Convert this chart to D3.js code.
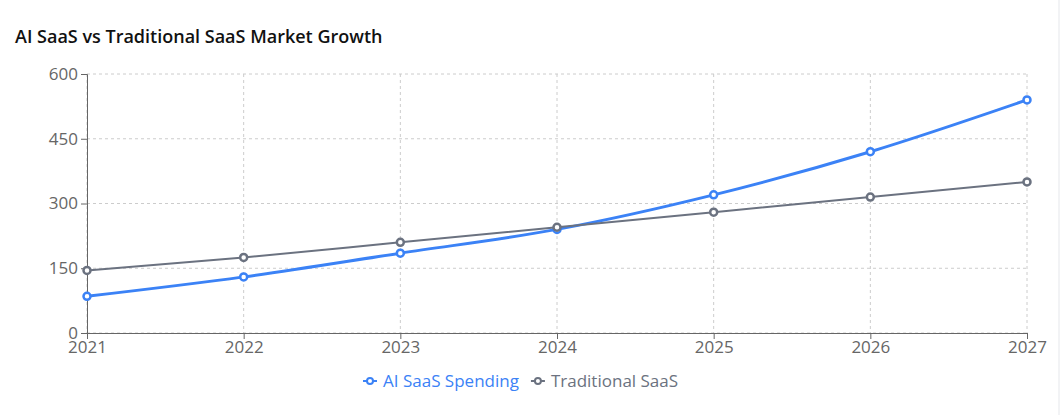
<!DOCTYPE html>
<html><head><meta charset="utf-8">
<script src="https://cdn.jsdelivr.net/npm/d3@7"></script>
<style>
body{margin:0;background:#fff;font-family:"Segoe UI","Open Sans",sans-serif}
</style></head><body>
<script>
const years = [2021, 2022, 2023, 2024, 2025, 2026, 2027]
const aiSaas = [85, 130, 185, 240, 320, 420, 540]
const tradSaas = [145, 175, 210, 245, 280, 315, 350]
const yTicks = [0, 150, 300, 450, 600]

const W = 1060, H = 415
const svg = d3.select('body').append('svg').attr('width', W).attr('height', H)

// card border on the right edge
svg.append('line').attr('x1', W - 1).attr('x2', W - 1).attr('y1', 0).attr('y2', H)
  .attr('stroke', '#e5e7eb')

svg.append('text').attr('x', 15).attr('y', 43)
  .attr('font-size', 18).attr('font-weight', 600).attr('fill', '#111')
  .text('AI SaaS vs Traditional SaaS Market Growth')

const x = d3.scalePoint().domain(years).range([87, 1027])
const y = d3.scaleLinear().domain([0, 600]).range([333, 74])

const grid = svg.append('g').attr('stroke', '#ccc').attr('stroke-dasharray', '3 3')
yTicks.forEach(t => grid.append('line').attr('x1', 87).attr('x2', 1027).attr('y1', y(t)).attr('y2', y(t)))
years.forEach(t => grid.append('line').attr('x1', x(t)).attr('x2', x(t)).attr('y1', 74).attr('y2', 333))

const xa = svg.append('g').attr('transform', 'translate(0,333)')
  .call(d3.axisBottom(x).tickSize(6).tickPadding(2))
const ya = svg.append('g').attr('transform', 'translate(87,0)')
  .call(d3.axisLeft(y).tickValues(yTicks).tickSize(6).tickPadding(3))
;[xa, ya].forEach(a => {
  a.selectAll('path,line').attr('stroke', '#666')
  a.selectAll('text').attr('fill', '#666').attr('font-size', 17)
    .attr('font-family', '"Segoe UI","Open Sans",sans-serif')
})

const series = [
  {name: 'AI SaaS Spending', vals: aiSaas, color: '#3b82f6', w: 3},
  {name: 'Traditional SaaS', vals: tradSaas, color: '#6b7280', w: 2}
]
series.forEach(s => {
  const line = d3.line().x((d, i) => x(years[i])).y(d => y(d)).curve(d3.curveMonotoneX)
  svg.append('path').datum(s.vals).attr('d', line).attr('fill', 'none')
    .attr('stroke', s.color).attr('stroke-width', s.w)
  svg.selectAll(null).data(s.vals).enter().append('circle')
    .attr('cx', (d, i) => x(years[i])).attr('cy', d => y(d)).attr('r', 3.5)
    .attr('fill', '#fff').attr('stroke', s.color).attr('stroke-width', 2.5)
})

// legend
const lg = svg.append('g').attr('font-size', 17)
let lx = 363
series.forEach(s => {
  const g = lg.append('g').attr('transform', `translate(${lx},381)`)
  g.append('line').attr('x1', 0).attr('x2', 14).attr('stroke', s.color).attr('stroke-width', 2)
  g.append('circle').attr('cx', 7).attr('r', 3).attr('fill', '#fff').attr('stroke', s.color).attr('stroke-width', 2)
  const t = g.append('text').attr('x', 20).attr('dy', '0.35em').attr('fill', s.color).text(s.name)
  lx += 20 + t.node().getComputedTextLength() + 12
})
</script>
</body></html>
